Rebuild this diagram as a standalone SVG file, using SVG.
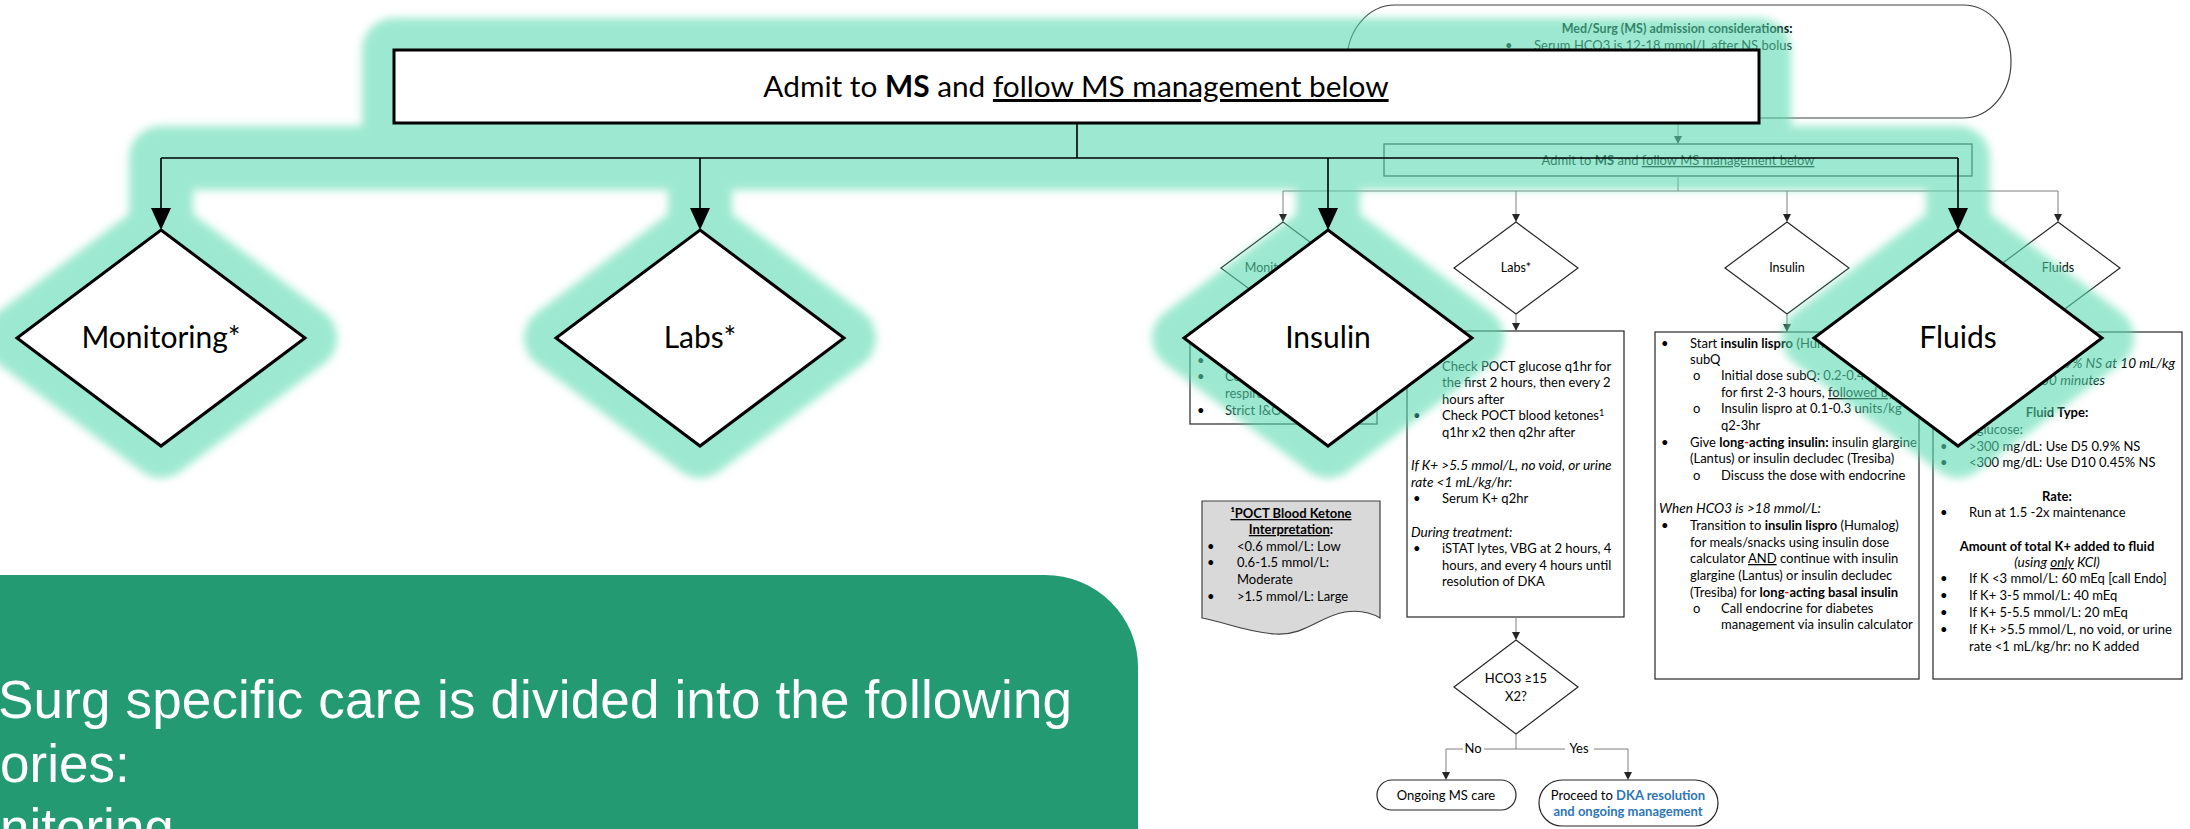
<svg xmlns="http://www.w3.org/2000/svg" width="2190" height="829" viewBox="0 0 2190 829">
<style>
.t{font-family:Lato,'Liberation Sans',sans-serif;font-size:13px;fill:#000}
.s{font-family:Lato,'Liberation Sans',sans-serif;font-size:12.5px;fill:#000}
.c{text-anchor:middle}
.e{text-anchor:end}
.b{font-weight:bold}
.i{font-style:italic}
.u{text-decoration:underline}
.box{fill:#fff;stroke:#262626;stroke-width:1.2}
.ln{fill:none;stroke:#7f7f7f;stroke-width:1}
.ah{fill:#262626}
.big{font-family:Lato,'Liberation Sans',sans-serif;font-size:30px;fill:#000;text-anchor:middle}
.bshape{fill:#fff;stroke:#000;stroke-width:3;stroke-linejoin:miter}
.bln{fill:none;stroke:#000;stroke-width:1.6}
.glow{fill:#5cdab1;stroke:#5cdab1;stroke-width:64;stroke-linejoin:round;stroke-linecap:round}
.red{fill:#e00000}
.blue{fill:#2e75b6;font-weight:bold}
.gt{font-family:'Liberation Sans',Arial,sans-serif;font-size:53px;fill:#fff}
</style>
<defs>
<filter id="blur" filterUnits="userSpaceOnUse" x="0" y="0" width="2190" height="829"><feGaussianBlur stdDeviation="4"/></filter>
</defs>
<rect width="2190" height="829" fill="#fff"/>

<!-- background flowchart -->
<g id="bg-flow">
<g id="ms-considerations">
<rect x="1347" y="5" width="664" height="113" rx="48" ry="56" fill="#fff" stroke="#404040" stroke-width="1.2"/>
<text class="t b c" x="1677" y="33" style="font-size:12.5px">Med/Surg (MS) admission considerations:</text>
<text class="t" x="1505" y="50">•</text>
<text class="t" x="1534" y="50">Serum HCO3 is 12-18 mmol/L after NS bolus</text>
</g>
<g id="ms-admit-small">
<rect class="box" x="1384" y="144" width="588" height="32"/>
<text class="t c" x="1678" y="165">Admit to <tspan class="b">MS</tspan> and <tspan class="u">follow MS management below</tspan></text>
</g>
<g id="sd-monitoring">
<polygon class="box" points="1283,222 1345,268 1283,314 1221,268"/>
<text class="s c" x="1278" y="272">Monitoring*</text>
</g>
<g id="sd-labs">
<polygon class="box" points="1516,222 1578,268 1516,314 1454,268"/>
<text class="s c" x="1516" y="272">Labs*</text>
</g>
<g id="sd-insulin">
<polygon class="box" points="1787,222 1849,268 1787,314 1725,268"/>
<text class="s c" x="1787" y="272">Insulin</text>
</g>
<g id="sd-fluids">
<polygon class="box" points="2058,222 2120,268 2058,314 1996,268"/>
<text class="s c" x="2058" y="272">Fluids</text>
</g>
<g id="box-monitoring">
<rect class="box" x="1190" y="332" width="187" height="92"/>
<text class="t" x="1197" y="365">•</text><text class="t" x="1225" y="365">Vital signs q1hr</text>
<text class="t" x="1197" y="381">•</text><text class="t" x="1225" y="381">Continuous cardiac and</text>
<text class="t" x="1225" y="398">respiratory monitoring</text>
<text class="t" x="1197" y="415">•</text><text class="t" x="1225" y="415">Strict I&amp;O</text>
</g>
<g id="box-ketone">
<path d="M1202,501 H1380 V618 C1370,612 1358,610 1345,612 C1320,616 1305,636 1275,634 C1245,632 1225,622 1202,618 Z" fill="#d9d9d9" stroke="#404040" stroke-width="1.2"/>
<text class="t c b" x="1291" y="518"><tspan class="u">¹POCT Blood Ketone</tspan></text>
<text class="t c b" x="1291" y="534"><tspan class="u">Interpretation</tspan>:</text>
<text class="t" x="1207" y="551">•</text><text class="t" x="1237" y="551">&lt;0.6 mmol/L: Low</text>
<text class="t" x="1207" y="567">•</text><text class="t" x="1237" y="567">0.6-1.5 mmol/L:</text>
<text class="t" x="1237" y="584">Moderate</text>
<text class="t" x="1207" y="601">•</text><text class="t" x="1237" y="601">&gt;1.5 mmol/L: Large</text>
</g>
<g id="box-labs">
<rect class="box" x="1407" y="331" width="217" height="286"/>
<text class="t" x="1413" y="371">•</text><text class="t" x="1442" y="371">Check POCT glucose q1hr for</text>
<text class="t" x="1442" y="387">the first 2 hours, then every 2</text>
<text class="t" x="1442" y="404">hours after</text>
<text class="t" x="1413" y="420">•</text><text class="t" x="1442" y="420">Check POCT blood ketones<tspan dy="-4" style="font-size:9px">1</tspan></text>
<text class="t" x="1442" y="437">q1hr x2 then q2hr after</text>
<text class="t i" x="1411" y="470" style="font-size:13.6px">If K+ &gt;5.5 mmol/L, no void, or urine</text>
<text class="t i" x="1411" y="487" style="font-size:13.6px">rate &lt;1 mL/kg/hr:</text>
<text class="t" x="1413" y="503">•</text><text class="t" x="1442" y="503">Serum K+ q2hr</text>
<text class="t i" x="1411" y="537" style="font-size:13.6px">During treatment:</text>
<text class="t" x="1413" y="553">•</text><text class="t" x="1442" y="553">iSTAT lytes, VBG at 2 hours, 4</text>
<text class="t" x="1442" y="570">hours, and every 4 hours until</text>
<text class="t" x="1442" y="586">resolution of DKA</text>
</g>
<g id="box-insulin">
<rect class="box" x="1655" y="332" width="264" height="347"/>
<text class="t" x="1661" y="348">•</text><text class="t" x="1690" y="348">Start <tspan class="b">insulin lispro</tspan> (Humalog)</text>
<text class="t" x="1690" y="364">subQ</text>
<text class="t" x="1693" y="380">o</text><text class="t" x="1721" y="380">Initial dose subQ: 0.2-0.4 units/kg</text>
<text class="t" x="1721" y="397">for first 2-3 hours, <tspan class="u">followed by</tspan></text>
<text class="t" x="1693" y="413">o</text><text class="t" x="1721" y="413">Insulin lispro at 0.1-0.3 units/kg</text>
<text class="t" x="1721" y="430">q2-3hr</text>
<text class="t" x="1661" y="447">•</text><text class="t" x="1690" y="447">Give <tspan class="b">long<tspan class="red">-</tspan>acting insulin:</tspan> insulin glargine</text>
<text class="t" x="1690" y="463">(Lantus) or insulin decludec (Tresiba)</text>
<text class="t" x="1693" y="480">o</text><text class="t" x="1721" y="480">Discuss the dose with endocrine</text>
<text class="t i" x="1659" y="513" style="font-size:13.6px">When HCO3 is &gt;18 mmol/L:</text>
<text class="t" x="1661" y="530">•</text><text class="t" x="1690" y="530">Transition to <tspan class="b">insulin lispro</tspan> (Humalog)</text>
<text class="t" x="1690" y="547">for meals/snacks using insulin dose</text>
<text class="t" x="1690" y="563">calculator <tspan class="u">AND</tspan> continue with insulin</text>
<text class="t" x="1690" y="580">glargine (Lantus) or insulin decludec</text>
<text class="t" x="1690" y="597">(Tresiba) for <tspan class="b">long<tspan class="red">-</tspan>acting basal insulin</tspan></text>
<text class="t" x="1693" y="613">o</text><text class="t" x="1721" y="613">Call endocrine for diabetes</text>
<text class="t" x="1721" y="629">management via insulin calculator</text>
</g>
<g id="box-fluids">
<rect class="box" x="1933" y="332" width="249" height="347"/>
<text class="t i e" x="2175" y="368" style="font-size:13.6px">Give bolus 0.9% NS at 10 mL/kg</text>
<text class="t i e" x="2105" y="385" style="font-size:13.6px">over 30 minutes</text>
<text class="t b c" x="2057" y="417">Fluid Type:</text>
<text class="t" x="1940" y="434">Blood glucose:</text>
<text class="t" x="1940" y="451">•</text><text class="t" x="1969" y="451">&gt;300 mg/dL: Use D5 0.9% NS</text>
<text class="t" x="1940" y="467">•</text><text class="t" x="1969" y="467">&lt;300 mg/dL: Use D10 0.45% NS</text>
<text class="t b c" x="2057" y="501">Rate:</text>
<text class="t" x="1940" y="517">•</text><text class="t" x="1969" y="517">Run at 1.5 -2x maintenance</text>
<text class="t b c" x="2057" y="551">Amount of total K+ added to fluid</text>
<text class="t i c" x="2057" y="567" style="font-size:13.6px">(using <tspan class="u">only</tspan> KCl)</text>
<text class="t" x="1940" y="583">•</text><text class="t" x="1969" y="583">If K &lt;3 mmol/L: 60 mEq [call Endo]</text>
<text class="t" x="1940" y="600">•</text><text class="t" x="1969" y="600">If K+ 3-5 mmol/L: 40 mEq</text>
<text class="t" x="1940" y="617">•</text><text class="t" x="1969" y="617">If K+ 5-5.5 mmol/L: 20 mEq</text>
<text class="t" x="1940" y="634">•</text><text class="t" x="1969" y="634">If K+ &gt;5.5 mmol/L, no void, or urine</text>
<text class="t" x="1969" y="651">rate &lt;1 mL/kg/hr: no K added</text>
</g>
<g id="hco3">
<polygon class="box" points="1516,640 1578,687 1516,734 1454,687"/>
<text class="t c" x="1516" y="683">HCO3  ≥15</text>
<text class="t c" x="1516" y="701">X2?</text>
</g>
<g id="ongoing">
<rect class="box" x="1377" y="780" width="139" height="30" rx="15"/>
<text class="t c" x="1446" y="800">Ongoing MS care</text>
</g>
<g id="proceed">
<rect class="box" x="1539" y="780" width="179" height="46" rx="23"/>
<text class="t c" x="1628" y="800">Proceed to <tspan class="blue">DKA resolution</tspan></text>
<text class="t c blue" x="1628" y="816">and ongoing management</text>
</g>
<g id="bg-connectors">
<path class="ln" d="M1678,118 V137 M1678,176 V191 M1283,191 H2058 M1283,191 V215 M1516,191 V215 M1787,191 V215 M2058,191 V215 M1283,314 V325 M1516,314 V324 M1787,314 V325 M2058,314 V325 M1516,617 V633 M1516,734 V749 M1446,749 H1463 M1484,749 H1565 M1594,749 H1628 M1446,749 V773 M1628,749 V773"/>
<polygon class="ah" points="1674,136 1682,136 1678,144"/>
<polygon class="ah" points="1279,214 1287,214 1283,222"/>
<polygon class="ah" points="1512,214 1520,214 1516,222"/>
<polygon class="ah" points="1783,214 1791,214 1787,222"/>
<polygon class="ah" points="2054,214 2062,214 2058,222"/>
<polygon class="ah" points="1279,324 1287,324 1283,332"/>
<polygon class="ah" points="1512,323 1520,323 1516,331"/>
<polygon class="ah" points="1783,324 1791,324 1787,332"/>
<polygon class="ah" points="2054,324 2062,324 2058,332"/>
<polygon class="ah" points="1512,632 1520,632 1516,640"/>
<polygon class="ah" points="1442,772 1450,772 1446,780"/>
<polygon class="ah" points="1624,772 1632,772 1628,780"/>
<text class="t c" x="1473" y="753">No</text>
<text class="t c" x="1579" y="753">Yes</text>
</g>
</g>

<!-- glow highlight -->
<g id="glow" filter="url(#blur)" opacity="0.6">
<rect class="glow" x="394" y="50" width="1365" height="73"/>
<path class="glow" style="fill:none" d="M1077,123 V158 M161,158 H1958 M161,158 V230 M700,158 V230 M1328,158 V230 M1958,158 V230"/>
<polygon class="glow" points="161,230 305,338 161,446 17,338"/>
<polygon class="glow" points="700,230 844,338 700,446 556,338"/>
<polygon class="glow" points="1328,230 1472,338 1328,446 1184,338"/>
<polygon class="glow" points="1958,230 2102,338 1958,446 1814,338"/>
</g>

<!-- foreground highlighted flow -->
<g id="connectors">
<path class="bln" d="M1077,123 V158 M161,158 H1958 M161,158 V209 M700,158 V209 M1328,158 V209 M1958,158 V209"/>
<polygon points="151,208 171,208 161,230" fill="#000"/>
<polygon points="690,208 710,208 700,230" fill="#000"/>
<polygon points="1318,208 1338,208 1328,230" fill="#000"/>
<polygon points="1948,208 1968,208 1958,230" fill="#000"/>
</g>
<g id="admit-ms">
<rect class="bshape" x="394" y="50" width="1365" height="73"/>
<text class="big" x="1076" y="97" style="font-size:29.8px">Admit to <tspan font-weight="bold">MS</tspan> and <tspan class="u">follow MS management below</tspan></text>
</g>
<g id="monitoring">
<polygon class="bshape" points="161,230 305,338 161,446 17,338"/>
<text class="big" x="161" y="348" textLength="159" lengthAdjust="spacing">Monitoring*</text>
</g>
<g id="labs">
<polygon class="bshape" points="700,230 844,338 700,446 556,338"/>
<text class="big" x="700" y="348">Labs*</text>
</g>
<g id="insulin">
<polygon class="bshape" points="1328,230 1472,338 1328,446 1184,338"/>
<text class="big" x="1328" y="348">Insulin</text>
</g>
<g id="fluids">
<polygon class="bshape" points="1958,230 2102,338 1958,446 1814,338"/>
<text class="big" x="1958" y="348">Fluids</text>
</g>

<!-- bottom-left callout -->
<g id="callout">
<path d="M-10,575 H1045 A93,92 0 0 1 1138,667 V840 H-10 Z" fill="#249a73"/>
<text class="gt" x="-2" y="718" textLength="1074" lengthAdjust="spacing">Surg specific care is divided into the following</text>
<text class="gt" x="0" y="782">ories:</text>
<text class="gt" x="0" y="846">nitoring</text>
</g>
</svg>
